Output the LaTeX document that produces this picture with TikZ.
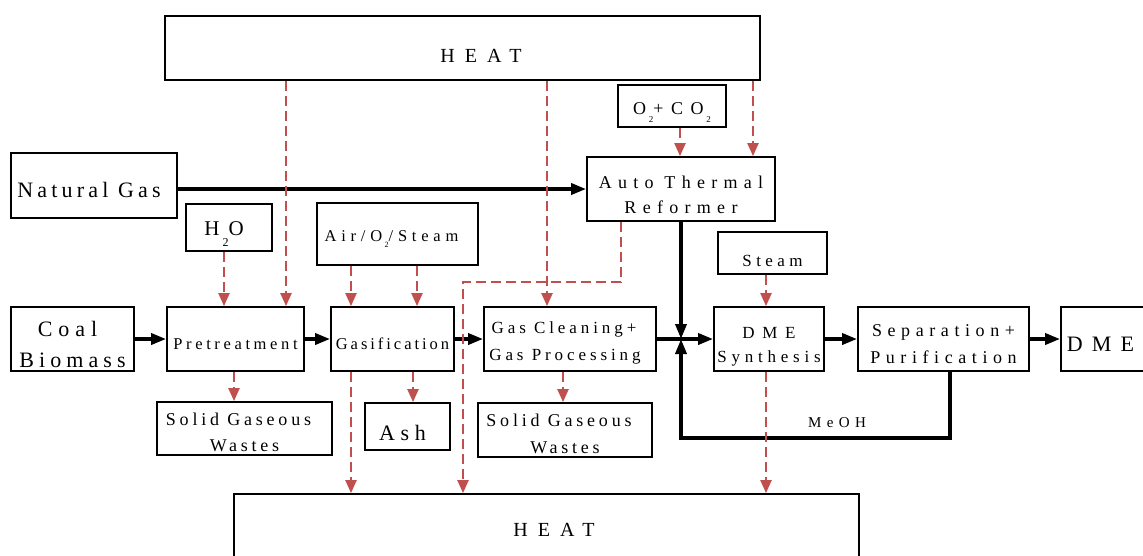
\documentclass[tikz,border=0pt]{standalone}
\usepackage{fontspec}
\setmainfont{Liberation Serif}
\definecolor{heatRed}{HTML}{C0504D}
\usetikzlibrary{arrows.meta}
\newcommand{\fs}[3]{\fontsize{#1}{#2}\selectfont\addfontfeatures{LetterSpace=#3}}
\newcommand{\sub}[2]{\hspace{0.15em}\raisebox{-#1pt}{\fontsize{#2}{#2}\selectfont 2}}

\begin{document}
\begin{tikzpicture}[
    x=1pt, y=-1pt,
    box/.style={rectangle, draw=black, line width=1.8pt, align=center, inner sep=0pt, text depth=0pt},
    flow/.style={-{Triangle[length=15pt, width=11pt]}, line width=3.5pt},
    heat/.style={-{Triangle[length=13pt, width=11pt]}, heatRed, line width=2.2pt, dash pattern=on 10pt off 5pt},
    tag/.style={font=\fs{15}{18}{36}}
  ]
    \clip (0,0) rectangle (1143,555);
    \node[box, minimum width=595pt, minimum height=64pt, text height=29pt, font=\fs{20}{24}{50}] (heattop) at (462.5,48) {\hspace*{37pt}HEAT};
    \node[box, minimum width=166pt, minimum height=65pt, text height=24.4pt, font=\fs{22}{27}{19}] (ng) at (94,185.5) {Natural Gas\hspace*{10pt}};
    \node[box, minimum width=108pt, minimum height=42pt, text height=17pt, font=\fs{18}{20}{42}] (oxy) at (672,106) {O\sub{8}{9}+CO\sub{8}{9}};
    \node[box, minimum width=188pt, minimum height=64pt, text height=48.8pt, font=\fs{18}{25}{35}] (atr) at (681,189) {Auto Thermal\\Reformer};
    \node[box, minimum width=86pt, minimum height=47pt, text height=16.8pt, font=\fs{21}{25}{28}] (water) at (229,227.5) {H\sub{11}{12}O\hspace*{10pt}};
    \node[box, minimum width=161pt, minimum height=62pt, text height=15.8pt, font=\fs{16.5}{20}{29}] (air) at (397.5,234) {Air/O\sub{6}{8}/Steam\hspace*{12pt}};
    \node[box, minimum width=109pt, minimum height=42pt, text height=27pt, font=\fs{17}{20}{26}] (steam) at (772.5,253) {Steam};
    \node[box, minimum width=123pt, minimum height=64pt, text height=57.4pt, font=\fs{22}{31}{27}] (feed) at (72.5,339) {Coal\hspace*{10pt}\\{\addfontfeatures{LetterSpace=23}Biomass}};
    \node[box, minimum width=137pt, minimum height=64pt, text height=21.8pt, font=\fs{16.5}{20}{22}] (pre) at (235.5,339) {Pretreatment};
    \node[box, minimum width=123pt, minimum height=64pt, text height=21.8pt, font=\fs{16.5}{20}{18}] (gasif) at (392.5,339) {Gasification};
    \node[box, minimum width=172pt, minimum height=64pt, text height=43.1pt, font=\fs{17}{27}{23}] (clean) at (570,339) {Gas Cleaning+\hspace*{12pt}\\Gas Processing\hspace*{10pt}};
    \node[box, minimum width=110pt, minimum height=64pt, text height=47.1pt, font=\fs{17}{24}{28}] (synth) at (769,339) {{\addfontfeatures{LetterSpace=45}DME}\\Synthesis};
    \node[box, minimum width=171pt, minimum height=64pt, text height=49.8pt, font=\fs{18}{27}{31}] (sep) at (943.5,339) {Separation+\\Purification};
    \node[box, minimum width=89pt, minimum height=64pt, text height=25.4pt, font=\fs{22}{26}{42}] (dme) at (1105.5,339) {DME\hspace*{10pt}};
    \node[box, minimum width=175pt, minimum height=53pt, text height=45.8pt, font=\fs{18}{26}{21}] (waste1) at (244.5,428.5) {Solid Gaseous\hspace*{12pt}\\Wastes};
    \node[box, minimum width=85pt, minimum height=47pt, text height=28.4pt, font=\fs{22}{26}{26}] (ash) at (407.5,426.5) {Ash\hspace*{10pt}};
    \node[box, minimum width=174pt, minimum height=54pt, text height=46.8pt, font=\fs{18}{27}{21}] (waste2) at (565,430) {Solid Gaseous\hspace*{12pt}\\Wastes};
    \node[box, minimum width=625pt, minimum height=72pt, text height=13.1pt, font=\fs{20}{24}{50}] (heatbot) at (546.5,530) {\hspace*{15pt}HEAT};
    % main line
    \draw[flow] (feed) -- (pre);
    \draw[flow] (pre) -- (gasif);
    \draw[flow] (gasif) -- (clean);
    \draw[flow] (clean) -- (synth);
    \draw[flow] (synth) -- (sep);
    \draw[flow] (sep) -- (dme);
    \draw[flow] (ng.east |- atr.west) -- (atr.west);
    \coordinate (junction) at (atr.south |- clean.east);
    \coordinate (recycle) at (950,438);
    \draw[flow] (atr.south) -- (junction);
    \draw[flow] (sep.south -| recycle) -- (recycle) -| node[tag, pos=0.21, above=5pt] {MeOH} (junction);
    % heat and side streams
    \draw[heat] (heattop.south -| 286,0) -- (pre.north -| 286,0);
    \draw[heat] (heattop.south -| 547,0) -- (clean.north -| 547,0);
    \draw[heat] (heattop.south -| 753,0) -- (atr.north -| 753,0);
    \draw[heat] (oxy.south -| 680,0) -- (atr.north -| 680,0);
    \draw[heat] (water.south -| 224,0) -- (pre.north -| 224,0);
    \draw[heat] (air.south -| 351,0) -- (gasif.north -| 351,0);
    \draw[heat] (air.south -| 417,0) -- (gasif.north -| 417,0);
    \draw[heat] (steam.south -| 766,0) -- (synth.north -| 766,0);
    \draw[heat] (pre.south -| 234,0) -- (waste1.north -| 234,0);
    \draw[heat] (gasif.south -| 413,0) -- (ash.north -| 413,0);
    \draw[heat] (clean.south -| 563,0) -- (waste2.north -| 563,0);
    \draw[heat] (gasif.south -| 351,0) -- (heatbot.north -| 351,0);
    \draw[heat] (synth.south -| 766,0) -- (heatbot.north -| 766,0);
    \coordinate (bend) at (463,282);
    \draw[heat] (atr.south -| 621,0) |- (bend) -- (heatbot.north -| bend);
  \end{tikzpicture}
\end{document}
